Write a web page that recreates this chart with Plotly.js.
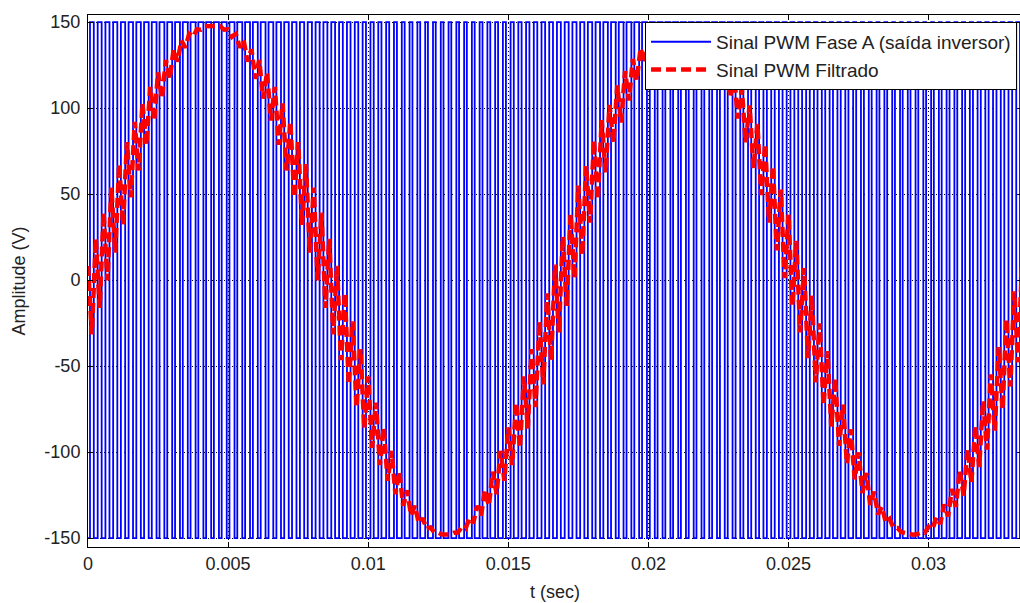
<!DOCTYPE html>
<html>
<head>
<meta charset="utf-8">
<script src="https://cdn.plot.ly/plotly-3.0.1.min.js"></script>
<style>
html,body{margin:0;padding:0;overflow:hidden;background:#fff;width:1020px;height:603px;}
#chart{width:1030px;height:603px;}
</style>
</head>
<body>
<div id="chart"></div>
<script>
// ---- data (read / estimated from the reference picture) ----
const carrierPeriod = 1 / 3600;          // s, one PWM carrier period
const pwmHigh = 150;                     // V
const pwmLow = -150;                     // V
// duty cycle of each carrier period (fraction of the period at +150 V)
const pwmDuty = [
  0.49,0.51,0.52,0.54,0.55,0.57,0.58,0.59,0.61,0.62,0.63,0.63,0.64,0.65,0.65,0.65,
  0.65,0.65,0.65,0.64,0.63,0.63,0.62,0.61,0.59,0.58,0.57,0.55,0.54,0.52,0.51,0.49,
  0.48,0.46,0.45,0.43,0.42,0.41,0.39,0.38,0.37,0.37,0.36,0.35,0.35,0.35,0.35,0.35,
  0.35,0.36,0.37,0.37,0.38,0.39,0.41,0.42,0.43,0.45,0.46,0.48,
  0.50,0.51,0.53,0.54,0.56,0.57,0.58,0.60,0.61,0.62,0.62,0.63,0.64,0.64,0.65,0.66,
  0.65,0.64,0.65,0.64,0.63,0.62,0.62,0.60,0.60,0.58,0.56,0.56,0.54,0.53,0.50,0.49,
  0.47,0.46,0.44,0.43,0.42,0.40,0.39,0.38,0.37,0.36,0.36,0.35,0.34,0.35,0.35,0.36,
  0.35,0.36,0.38,0.37,0.39,0.40,0.41,0.42,0.44,0.45,0.47,0.48
];

const filteredStep = 1 / 7200;          // s between filtered-signal samples
const filteredValues = [
  8.2,-31.6,24.0,-16.2,39.2,-0.2,53.8,15.9,67.4,32.1,80.2,48.1,92.0,63.7,102.7,78.6,
  112.3,92.7,120.7,105.5,128.0,117.0,134.2,127.0,139.2,135.1,143.1,141.4,145.8,145.6,147.5,147.7,
  148.0,147.7,147.5,145.6,145.8,141.4,143.1,135.1,139.2,127.0,134.2,117.0,128.0,105.5,120.7,92.7,
  112.3,78.6,102.7,63.7,92.0,48.1,80.2,32.1,67.4,15.9,53.8,-0.2,39.2,-16.2,24.0,-31.6,
  8.2,-46.6,-7.8,-60.7,-24.0,-73.9,-40.2,-86.3,-56.0,-97.5,-71.3,-107.6,-85.7,-116.7,-99.3,-124.5,
  -111.4,-131.2,-122.2,-136.8,-131.2,-141.3,-138.5,-144.6,-143.8,-146.8,-146.9,-147.9,-148.0,-147.9,-146.9,-146.8,
  -143.8,-144.6,-138.5,-141.3,-131.2,-136.8,-122.2,-131.2,-111.4,-124.5,-99.3,-116.7,-85.7,-107.6,-71.3,-97.5,
  -56.0,-86.3,-40.2,-73.9,-24.0,-60.7,-7.8,-46.6,
  9.0,-30.4,25.2,-15.0,38.1,1.1,54.9,14.6,66.3,33.4,81.1,46.9,93.0,62.5,101.8,79.7,
  113.1,91.6,121.5,104.4,128.6,116.1,134.9,126.2,138.7,134.6,142.6,140.9,145.4,145.2,147.1,147.5,
  147.9,147.4,147.2,145.9,145.3,141.9,142.5,135.8,138.4,128.1,133.3,118.2,127.1,106.7,119.6,93.9,
  111.2,79.9,101.5,65.0,90.8,49.4,79.0,33.4,66.2,17.2,52.6,1.1,38.0,-15.0,22.8,-30.4,
  7.0,-45.4,-9.0,-59.5,-25.2,-72.7,-41.3,-85.2,-57.1,-96.4,-72.4,-106.7,-86.8,-115.9,-100.2,-123.8,
  -112.2,-130.7,-123.0,-136.3,-131.8,-140.9,-138.9,-144.3,-144.2,-146.6,-147.1,-147.8,-148.0,-147.8,-146.7,-147.0,
  -143.4,-145.0,-137.9,-141.8,-130.5,-137.4,-121.4,-131.9,-110.5,-125.3,-98.2,-117.6,-84.6,-108.7,-70.2,-98.6,
  -54.8,-87.5,-39.0,-75.1,-22.8,-61.9,-6.6,-47.8,9.4
];

const xTickVals = [0, 0.005, 0.01, 0.015, 0.02, 0.025, 0.03];
const xTickText = ['0', '0.005', '0.01', '0.015', '0.02', '0.025', '0.03'];
const yTickVals = [-150, -100, -50, 0, 50, 100, 150];
const yTickText = ['-150', '-100', '-50', '0', '50', '100', '150'];

const seriesNames = ['Sinal PWM Fase A (saída inversor)', 'Sinal PWM Filtrado'];
const xTitle = 't (sec)';
const yTitle = 'Amplitude (V)';

// ---- build traces from the data ----
const pwmX = [], pwmY = [];
pwmDuty.forEach((d, k) => {
  const t0 = k * carrierPeriod;
  pwmX.push(t0, t0 + carrierPeriod * (1 - d) / 2, t0 + carrierPeriod * (1 + d) / 2);
  pwmY.push(pwmLow, pwmHigh, pwmLow);
});
pwmX.push(pwmDuty.length * carrierPeriod);
pwmY.push(pwmLow);

const filtX = filteredValues.map((v, i) => i * filteredStep);

const font = 'Liberation Sans, Arial, Helvetica, sans-serif';
const fsize = 18;

const traces = [
  {
    x: pwmX, y: pwmY, type: 'scatter', mode: 'lines',
    name: seriesNames[0],
    line: {color: '#0000ff', width: 1.8, shape: 'hv'}
  },
  {
    x: filtX, y: filteredValues, type: 'scatter', mode: 'lines',
    name: seriesNames[1],
    line: {color: '#ff0000', width: 4.5, dash: '10px,5px'}
  }
];

const axisCommon = {
  showline: true, linecolor: '#000', linewidth: 1, mirror: 'ticks',
  ticks: 'inside', ticklen: 5, tickcolor: '#000', tickwidth: 1,
  showgrid: true, gridcolor: '#000', gridwidth: 1, griddash: '1px,3px',
  zeroline: false,
  tickfont: {family: font, size: fsize, color: '#222'}
};

const layout = {
  width: 1030, height: 603,
  margin: {l: 88, r: 8, t: 15, b: 56},
  paper_bgcolor: '#fff', plot_bgcolor: '#fff',
  showlegend: true,
  xaxis: Object.assign({}, axisCommon, {
    range: [0, 1 / 30],
    tickmode: 'array', tickvals: xTickVals, ticktext: xTickText,
    title: {text: xTitle, font: {family: font, size: fsize, color: '#222'}, standoff: 12}
  }),
  yaxis: Object.assign({}, axisCommon, {
    range: [-155.2, 154.1],
    tickmode: 'array', tickvals: yTickVals, ticktext: yTickText,
    ticklabelstandoff: 3,
    title: {text: yTitle, font: {family: font, size: fsize, color: '#222'}, standoff: 14}
  }),
  legend: {
    x: 0.9947, xanchor: 'right', y: 0.987, yanchor: 'top',
    bgcolor: '#fff', bordercolor: '#000', borderwidth: 1,
    font: {family: font, size: 19, color: '#222'},
    itemwidth: 60, tracegroupgap: 0
  }
};

Plotly.newPlot('chart', traces, layout, {displayModeBar: false, staticPlot: true});
</script>
</body>
</html>
